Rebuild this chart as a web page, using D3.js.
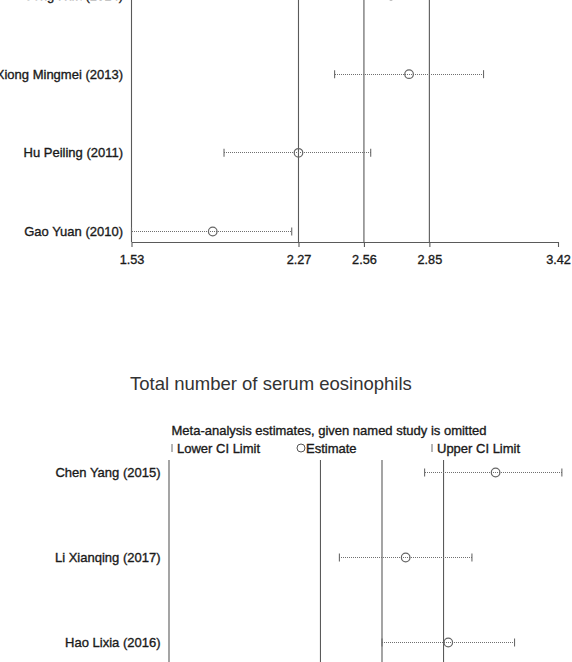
<!DOCTYPE html>
<html>
<head>
<meta charset="utf-8">
<script src="https://cdn.jsdelivr.net/npm/d3@7"></script>
<style>
  html, body { margin: 0; padding: 0; background: #fff; }
  svg { display: block; }
  text { font-family: "Liberation Sans", Arial, Helvetica, sans-serif; }
</style>
</head>
<body>
<svg id="chart" width="572" height="662"></svg>
<script>
// ---------- DATA ----------
// Top panel (title cut off above the view)
const topStudies = ["Song Hua (2014)", "Xiong Mingmei (2013)", "Hu Peiling (2011)", "Gao Yuan (2010)"];
const topLower   = [2.37, 2.43, 1.94, 1.53];
const topEst     = [2.68, 2.76, 2.27, 1.89];
const topUpper   = [2.99, 3.09, 2.59, 2.24];
const topTicks   = [1.53, 2.27, 2.56, 2.85, 3.42];
const topRefs    = [1.53, 2.27, 2.56, 2.85];

// Bottom panel: Total number of serum eosinophils
const botTitle   = "Total number of serum eosinophils";
const botSubtitle = "Meta-analysis estimates, given named study is omitted";
const botStudies = ["Chen Yang (2015)", "Li Xianqing (2017)", "Hao Lixia (2016)"];
const botLower   = [0.64, 0.46, 0.55];
const botEst     = [0.79, 0.60, 0.69];
const botUpper   = [0.93, 0.74, 0.83];
const botDomain  = [0.10, 1.00];
const botRefs    = [0.10, 0.42, 0.55, 0.68];

// ---------- DRAW ----------
const svg = d3.select("#chart");
const lineCol = "#5a5a5a";
const ciCol = "#6a6a6a";
const txtCol = "#1a1a1a";
const medium = sel => sel.attr("fill", txtCol).attr("stroke", txtCol).attr("stroke-width", 0.35);
const labFont = "13px 'Liberation Sans', Arial, sans-serif";

function drawPanel(opts) {
  const g = svg.append("g");
  const x = d3.scaleLinear().domain(opts.domain).range(opts.xRange);
  const y = d3.scalePoint().domain(opts.studies).range(opts.yRange);

  // reference vertical lines
  g.selectAll("line.ref").data(opts.refs).join("line")
    .attr("class", "ref")
    .attr("x1", d => x(d)).attr("x2", d => x(d))
    .attr("y1", opts.refTop).attr("y2", opts.refBottom)
    .attr("stroke", lineCol).attr("stroke-width", 1.1);

  // axis
  if (opts.axisY !== undefined) {
    const ax = g.append("g")
      .attr("transform", `translate(0,${opts.axisY})`)
      .call(d3.axisBottom(x).tickValues(opts.ticks).tickFormat(d3.format(".2f")).tickSize(5).tickSizeOuter(0));
    ax.select(".domain").attr("stroke", lineCol).attr("stroke-width", 1.1);
    ax.selectAll(".tick line").attr("stroke", lineCol).attr("stroke-width", 1.1);
    ax.selectAll(".tick text")
      .call(medium)
      .style("font", "12.7px 'Liberation Sans', Arial, sans-serif")
      .attr("dy", "1.1em");
  }

  // study labels
  g.selectAll("text.lab").data(opts.studies).join("text")
    .attr("class", "lab")
    .attr("x", opts.labelX).attr("y", d => y(d))
    .attr("dy", "0.35em")
    .attr("text-anchor", "end")
    .call(medium)
    .style("font", labFont)
    .text(d => d);

  const rows = opts.studies.map((s, i) => ({ s, lo: opts.lower[i], est: opts.est[i], hi: opts.upper[i] }));

  // dotted CI lines
  g.selectAll("line.ci").data(rows).join("line")
    .attr("class", "ci")
    .attr("x1", d => x(d.lo)).attr("x2", d => x(d.hi))
    .attr("y1", d => y(d.s)).attr("y2", d => y(d.s))
    .attr("stroke", "#707070").attr("stroke-width", 1)
    .attr("stroke-dasharray", "1,1")
    .attr("shape-rendering", "crispEdges");

  // caps
  ["lo", "hi"].forEach(k => {
    g.selectAll("line.cap" + k).data(rows).join("line")
      .attr("class", "cap" + k)
      .attr("x1", d => x(d[k])).attr("x2", d => x(d[k]))
      .attr("y1", d => y(d.s) - 4).attr("y2", d => y(d.s) + 4)
      .attr("stroke", ciCol).attr("stroke-width", 1.1);
  });

  // estimate circles
  g.selectAll("circle.est").data(rows).join("circle")
    .attr("class", "est")
    .attr("cx", d => x(d.est)).attr("cy", d => y(d.s))
    .attr("r", 4.3)
    .attr("fill", "none")
    .attr("stroke", "#666").attr("stroke-width", 1.2);
  return g;
}

drawPanel({
  studies: topStudies, lower: topLower, est: topEst, upper: topUpper,
  domain: [topTicks[0], topTicks[topTicks.length - 1]],
  xRange: [131.5, 558], yRange: [-4.5, 231.5],
  refs: topRefs, refTop: -20, refBottom: 242,
  axisY: 242, ticks: topTicks, labelX: 123
});

// Bottom panel titles / legend
svg.append("text")
  .attr("x", 130).attr("y", 389.5)
  .attr("fill", "#333")
  .style("font", "18.5px 'Liberation Sans', Arial, sans-serif")
  .text(botTitle);

svg.append("text")
  .attr("x", 171.5).attr("y", 434.5)
  .call(medium)
  .style("font", labFont)
  .text(botSubtitle);

const leg = svg.append("g");
leg.append("line").attr("x1", 172).attr("x2", 172).attr("y1", 444).attr("y2", 452).attr("stroke", ciCol).attr("stroke-width", 1);
leg.append("text").attr("x", 177).attr("y", 452.5).call(medium).style("font", labFont).text("Lower CI Limit");
leg.append("circle").attr("cx", 301).attr("cy", 448).attr("r", 4).attr("fill", "none").attr("stroke", "#555").attr("stroke-width", 1);
leg.append("text").attr("x", 306).attr("y", 452.5).call(medium).style("font", labFont).text("Estimate");
leg.append("line").attr("x1", 432).attr("x2", 432).attr("y1", 444).attr("y2", 452).attr("stroke", ciCol).attr("stroke-width", 1);
leg.append("text").attr("x", 437).attr("y", 452.5).call(medium).style("font", labFont).text("Upper CI Limit");

drawPanel({
  studies: botStudies, lower: botLower, est: botEst, upper: botUpper,
  domain: botDomain,
  xRange: [169, 595], yRange: [472.5, 642.5],
  refs: botRefs, refTop: 460, refBottom: 680,
  labelX: 160.5
});
</script>
</body>
</html>
